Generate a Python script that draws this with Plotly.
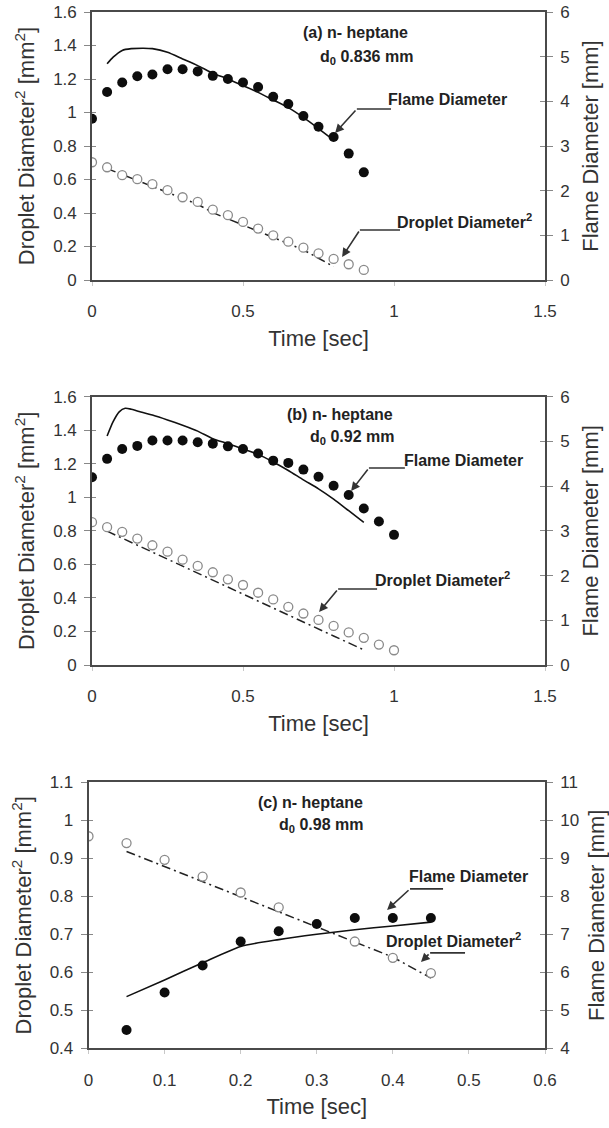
import plotly.graph_objects as go

# ---------------- data ----------------
# Panel (a) n-heptane, d0 = 0.836 mm
a_t = [0, 0.05, 0.1, 0.15, 0.2, 0.25, 0.3, 0.35, 0.4, 0.45, 0.5, 0.55, 0.6, 0.65, 0.7, 0.75, 0.8, 0.85, 0.9]
a_flame = [3.61, 4.21, 4.42, 4.56, 4.60, 4.72, 4.72, 4.67, 4.57, 4.50, 4.42, 4.32, 4.10, 3.94, 3.67, 3.43, 3.20, 2.83, 2.41]
a_drop = [0.703, 0.673, 0.626, 0.602, 0.572, 0.536, 0.494, 0.466, 0.420, 0.387, 0.347, 0.307, 0.267, 0.229, 0.193, 0.159, 0.126, 0.094, 0.060]
a_flame_model_t = [0.05, 0.07, 0.1, 0.13, 0.17, 0.2, 0.25, 0.3, 0.35, 0.4, 0.45, 0.5, 0.55, 0.6, 0.65, 0.7, 0.75, 0.8]
a_flame_model = [4.84, 4.99, 5.14, 5.18, 5.19, 5.18, 5.10, 4.95, 4.80, 4.63, 4.50, 4.35, 4.20, 4.03, 3.86, 3.64, 3.39, 3.13]
a_drop_model_t = [0.05, 0.1, 0.15, 0.2, 0.25, 0.3, 0.35, 0.4, 0.45, 0.5, 0.55, 0.6, 0.65, 0.7, 0.75, 0.8]
a_drop_model = [0.665, 0.630, 0.595, 0.558, 0.525, 0.490, 0.452, 0.402, 0.365, 0.330, 0.290, 0.255, 0.220, 0.180, 0.130, 0.080]

# Panel (b) n-heptane, d0 = 0.92 mm
b_t = [0, 0.05, 0.1, 0.15, 0.2, 0.25, 0.3, 0.35, 0.4, 0.45, 0.5, 0.55, 0.6, 0.65, 0.7, 0.75, 0.8, 0.85, 0.9, 0.95, 1.0]
b_flame = [4.20, 4.61, 4.83, 4.90, 5.02, 5.02, 5.02, 4.98, 4.95, 4.89, 4.83, 4.73, 4.57, 4.52, 4.37, 4.21, 4.01, 3.80, 3.50, 3.21, 2.91]
b_drop = [0.852, 0.822, 0.794, 0.754, 0.714, 0.676, 0.628, 0.591, 0.553, 0.511, 0.477, 0.431, 0.391, 0.347, 0.307, 0.269, 0.233, 0.194, 0.162, 0.122, 0.088]
b_flame_model_t = [0.05, 0.07, 0.09, 0.11, 0.13, 0.15, 0.2, 0.25, 0.3, 0.35, 0.4, 0.45, 0.5, 0.55, 0.6, 0.65, 0.7, 0.75, 0.8, 0.85, 0.9]
b_flame_model = [5.12, 5.44, 5.66, 5.74, 5.72, 5.68, 5.59, 5.48, 5.36, 5.23, 5.06, 4.95, 4.83, 4.71, 4.54, 4.35, 4.14, 3.94, 3.71, 3.45, 3.19]
b_drop_model_t = [0.05, 0.1, 0.15, 0.2, 0.25, 0.3, 0.35, 0.4, 0.45, 0.5, 0.55, 0.6, 0.65, 0.7, 0.75, 0.8, 0.85, 0.9]
b_drop_model = [0.798, 0.756, 0.715, 0.673, 0.632, 0.590, 0.548, 0.507, 0.465, 0.424, 0.382, 0.340, 0.298, 0.257, 0.215, 0.173, 0.132, 0.090]

# Panel (c) n-heptane, d0 = 0.98 mm
c_flame_t = [0.05, 0.1, 0.15, 0.2, 0.25, 0.3, 0.35, 0.4, 0.45]
c_flame = [4.48, 5.47, 6.18, 6.81, 7.08, 7.27, 7.43, 7.43, 7.43]
c_drop_t = [0, 0.05, 0.1, 0.15, 0.2, 0.25, 0.35, 0.4, 0.45]
c_drop = [0.958, 0.940, 0.896, 0.852, 0.810, 0.771, 0.681, 0.638, 0.598]
c_flame_model_t = [0.05, 0.1, 0.15, 0.2, 0.25, 0.3, 0.35, 0.4, 0.45]
c_flame_model = [5.36, 5.80, 6.25, 6.68, 6.86, 7.00, 7.12, 7.22, 7.32]
c_drop_model_t = [0.05, 0.1, 0.15, 0.2, 0.25, 0.3, 0.35, 0.4, 0.45]
c_drop_model = [0.918, 0.878, 0.838, 0.800, 0.760, 0.720, 0.680, 0.640, 0.585]

# ---------------- styling ----------------
W, H = 609, 1128
FONT = "Liberation Sans, Arial, sans-serif"
TXT = "#333333"
AX = "#4a4a4a"

def px_x(p):
    return p / W

def px_y(p):
    return 1 - p / H

panels = [
    dict(xd=[px_x(92), px_x(545)], yd=[px_y(280), px_y(12)], xr=[0, 1.5], xdt=0.5,
         yr=[0, 1.6], ydt=0.2, y2r=[0, 6], y2dt=1),
    dict(xd=[px_x(92), px_x(545)], yd=[px_y(665), px_y(396.7)], xr=[0, 1.5], xdt=0.5,
         yr=[0, 1.6], ydt=0.2, y2r=[0, 6], y2dt=1),
    dict(xd=[px_x(88.5), px_x(545)], yd=[px_y(1048.3), px_y(782.3)], xr=[0, 0.6], xdt=0.1,
         yr=[0.4, 1.1], ydt=0.1, y2r=[4, 11], y2dt=1),
]

fig = go.Figure()

series = [
    (a_t, a_flame, a_drop, a_flame_model_t, a_flame_model, a_drop_model_t, a_drop_model, a_t),
    (b_t, b_flame, b_drop, b_flame_model_t, b_flame_model, b_drop_model_t, b_drop_model, b_t),
    (c_flame_t, c_flame, c_drop, c_flame_model_t, c_flame_model, c_drop_model_t, c_drop_model, c_drop_t),
]

for i, (ft, fl, dr, fmt, fm, dmt, dm, dt) in enumerate(series):
    xa = "x" if i == 0 else f"x{i+1}"
    yl = "y" if i == 0 else f"y{2*i+1}"
    yr = f"y{2*i+2}"
    # droplet model (dash-dot)
    fig.add_trace(go.Scatter(x=dmt, y=dm, xaxis=xa, yaxis=yl, mode="lines",
                             line=dict(color="#222222", width=1.5, dash="9px,4px,2px,4px"),
                             showlegend=False))
    # droplet data (open circles)
    fig.add_trace(go.Scatter(x=dt, y=dr, xaxis=xa, yaxis=yl, mode="markers",
                             marker=dict(symbol="circle", size=9, color="white",
                                         line=dict(color="#8a8a8a", width=1.3)),
                             showlegend=False))
    # flame model (solid)
    fig.add_trace(go.Scatter(x=fmt, y=fm, xaxis=xa, yaxis=yr, mode="lines",
                             line=dict(color="#111111", width=1.6, shape="spline", smoothing=0.6),
                             showlegend=False))
    # flame data (filled circles)
    fig.add_trace(go.Scatter(x=ft, y=fl, xaxis=xa, yaxis=yr, mode="markers",
                             marker=dict(symbol="circle", size=10, color="#0d0d0d"),
                             showlegend=False))

layout = dict(width=W, height=H, margin=dict(l=0, r=0, t=0, b=0),
              paper_bgcolor="white", plot_bgcolor="white",
              font=dict(family=FONT, color=TXT, size=17), showlegend=False)

ytitle = "Droplet Diameter<sup>2</sup> [mm<sup>2</sup>]"
for i, p in enumerate(panels):
    xk = "xaxis" if i == 0 else f"xaxis{i+1}"
    ylk = "yaxis" if i == 0 else f"yaxis{2*i+1}"
    yrk = f"yaxis{2*i+2}"
    xa = "x" if i == 0 else f"x{i+1}"
    yl = "y" if i == 0 else f"y{2*i+1}"
    layout[xk] = dict(domain=p["xd"], anchor=yl, range=p["xr"], dtick=p["xdt"], tick0=0,
                      showline=True, linecolor=AX, linewidth=1.6, mirror=True,
                      ticks="outside", ticklen=4, tickcolor="#c8c8c8",
                      showgrid=False, zeroline=False, automargin=False,
                      ticklabelstandoff=11,
                      tickfont=dict(size=17, color=TXT),
                      title=dict(text="Time [sec]", font=dict(size=22, color=TXT), standoff=10))
    layout[ylk] = dict(domain=p["yd"], anchor=xa, range=p["yr"], dtick=p["ydt"], tick0=0,
                       showline=True, linecolor=AX, linewidth=1.6,
                       ticks="outside", ticklen=6, tickcolor="#888888",
                       showgrid=False, zeroline=False, automargin=False,
                       ticklabelstandoff=4,
                       tickfont=dict(size=17, color=TXT),
                       title=dict(text=ytitle, font=dict(size=22, color=TXT), standoff=12))
    layout[yrk] = dict(overlaying=yl, side="right", anchor=xa, range=p["y2r"], dtick=p["y2dt"], tick0=0,
                       showline=True, linecolor=AX, linewidth=1.6,
                       ticks="outside", ticklen=6, tickcolor="#888888",
                       showgrid=False, zeroline=False, automargin=False,
                       ticklabelstandoff=4,
                       tickfont=dict(size=17, color=TXT),
                       title=dict(text="Flame Diameter [mm]", font=dict(size=22, color=TXT), standoff=14))
    # companion axes giving the inner half of the crossing tick marks
    layout[f"yaxis{7+2*i}"] = dict(overlaying=yl, side="left", anchor=xa, range=p["yr"], dtick=p["ydt"],
                                   tick0=0, showline=False, ticks="inside", ticklen=4,
                                   tickcolor="#888888", showticklabels=False, showgrid=False,
                                   zeroline=False, automargin=False)
    layout[f"yaxis{8+2*i}"] = dict(overlaying=yl, side="right", anchor=xa, range=p["y2r"], dtick=p["y2dt"],
                                   tick0=0, showline=False, ticks="inside", ticklen=5,
                                   tickcolor="#888888", showticklabels=False, showgrid=False,
                                   zeroline=False, automargin=False)
    for k in (7 + 2 * i, 8 + 2 * i):
        fig.add_trace(go.Scatter(x=[], y=[], xaxis=xa, yaxis=f"y{k}", mode="lines",
                                 showlegend=False, hoverinfo="skip"))

fig.update_layout(**layout)

# ---------------- annotations ----------------
BOLD = dict(family=FONT, size=16, color="#222222")
ann_specs = [
    # (xref, yref, x, y, text, xanchor)
    ("x", "y", 1.053, 1.475, "<b>(a) n- heptane</b>", "right"),
    ("x", "y", 1.070, 1.331, "<b>d<sub>0</sub> 0.836 mm</b>", "right"),
    ("x", "y", 0.974, 1.075, "<b>Flame Diameter</b>", "left"),
    ("x", "y", 1.003, 0.352, "<b>Droplet Diameter<sup>2</sup></b>", "left"),
    ("x2", "y3", 1.003, 1.491, "<b>(b) n- heptane</b>", "right"),
    ("x2", "y3", 1.010, 1.354, "<b>d<sub>0</sub> 0.92 mm</b>", "right"),
    ("x2", "y3", 1.026, 1.222, "<b>Flame Diameter</b>", "left"),
    ("x2", "y3", 0.930, 0.513, "<b>Droplet Diameter<sup>2</sup></b>", "left"),
    ("x3", "y5", 0.3634, 1.048, "<b>(c) n- heptane</b>", "right"),
    ("x3", "y5", 0.3647, 0.9876, "<b>d<sub>0</sub> 0.98 mm</b>", "right"),
    ("x3", "y5", 0.4187, 0.851, "<b>Flame Diameter</b>", "left"),
    ("x3", "y5", 0.3884, 0.685, "<b>Droplet Diameter<sup>2</sup></b>", "left"),
]
annotations = []
for xr, yr, x, y, t, xan in ann_specs:
    annotations.append(dict(xref=xr, yref=yr, x=x, y=y, text=t, showarrow=False,
                            xanchor=xan, yanchor="middle", font=BOLD))

# leader lines: (xref, yref, x_end_of_horizontal, x_knee, y_knee, x_head, y_head)
leaders = [
    ("x", "y", 0.99, 0.877, 1.021, 0.805, 0.878),
    ("x", "y", 1.02, 0.887, 0.2985, 0.828, 0.137),
    ("x2", "y3", 1.036, 0.917, 1.175, 0.858, 1.038),
    ("x2", "y3", 0.944, 0.815, 0.453, 0.752, 0.316),
    ("x3", "y5", 0.466, 0.4226, 0.8195, 0.3924, 0.764),
    ("x3", "y5", 0.4949, 0.449, 0.651, 0.437, 0.627),
]
shapes = []
for xr, yr, xe, xk, yk, xh, yh in leaders:
    shapes.append(dict(type="line", xref=xr, yref=yr, x0=xe, x1=xk, y0=yk, y1=yk,
                       line=dict(color="#333333", width=1.6)))
    annotations.append(dict(xref=xr, yref=yr, x=xh, y=yh, ax=xk, ay=yk, axref=xr, ayref=yr,
                            text="", showarrow=True, arrowhead=2, arrowsize=1.1,
                            arrowwidth=1.6, arrowcolor="#333333", standoff=0))

fig.update_layout(annotations=annotations, shapes=shapes)

fig.write_html("out.html")
